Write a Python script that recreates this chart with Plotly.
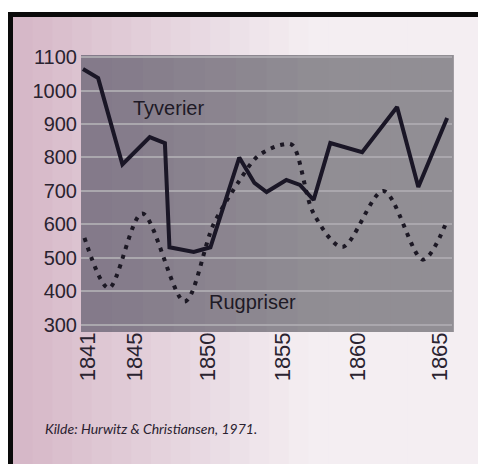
import plotly.graph_objects as go

# Tyverier (thefts) – solid line vertices
tyv_years = [1841.0, 1842.0, 1843.6, 1845.4, 1846.4, 1846.7, 1848.3, 1849.4, 1851.3,
             1852.3, 1853.1, 1854.4, 1855.3, 1856.2, 1857.3, 1859.4, 1861.7, 1863.1, 1865.0]
tyv_values = [1064, 1037, 779, 861, 843, 532, 518, 532, 800,
              724, 697, 733, 718, 673, 843, 816, 951, 712, 918]

# Rugpriser (rye prices) – dotted curve
rug_years = [1841.1, 1842.7, 1844.9, 1847.7, 1849.6, 1851.3, 1852.5, 1854.0, 1854.8,
             1856.2, 1858.1, 1860.8, 1863.4, 1865.0]
rug_values = [560, 410, 633, 370, 600, 730, 803, 837, 837,
              633, 533, 700, 495, 612]

tick_pos = [1841.3, 1844.4, 1849.2, 1854.2, 1859.1, 1864.5]
tick_text = ["1841", "1845", "1850", "1855", "1860", "1865"]
y_ticks = [300, 400, 500, 600, 700, 800, 900, 1000, 1100]

OFF = 8  # page body margin
W, H = 486 - OFF, 464 - OFF
L, R, T, B = 81 - OFF, 34, 55 - OFF, 132
pw, ph = W - L - R, H - T - B

def px(x):
    return (x - OFF - L) / pw

def py(y):
    return 1 - (y - OFF - T) / ph

fig = go.Figure()
fig.add_trace(go.Scatter(x=rug_years, y=rug_values, mode="lines",
                         line=dict(color="#1c1824", width=4, dash="4px,6px", shape="spline", smoothing=0.9),
                         hoverinfo="skip", showlegend=False))
fig.add_trace(go.Scatter(x=tyv_years, y=tyv_values, mode="lines",
                         line=dict(color="#1a1626", width=4),
                         hoverinfo="skip", showlegend=False))

def lerp(c0, c1, t):
    return "rgb(%d,%d,%d)" % tuple(int(c0[k] + (c1[k] - c0[k]) * t) for k in range(3))

shapes = []
# paper gradient strips (pink left -> white right)
n = 24
for i in range(n):
    t = min(1, (i / (n - 1)) * 1.6)
    x0 = 13 + (486 - 13) * i / n
    x1 = 13 + (486 - 13) * (i + 1) / n + 1
    shapes.append(dict(type="rect", xref="paper", yref="paper", layer="below",
                       x0=px(x0), x1=px(x1), y0=py(470), y1=py(17),
                       fillcolor=lerp((214, 184, 200), (244, 238, 242), t), line=dict(width=0)))
# plot-area background strips (purplish left -> grey right)
m = 12
for i in range(m):
    t = min(1, (i / (m - 1)) * 1.5)
    shapes.append(dict(type="rect", xref="paper", yref="paper", layer="below",
                       x0=i / m, x1=(i + 1) / m + 0.005, y0=0, y1=1,
                       fillcolor=lerp((132, 122, 138), (145, 142, 148), t), line=dict(width=0)))
# black frame (photo edge)
shapes.append(dict(type="rect", xref="paper", yref="paper", layer="above",
                   x0=px(8), x1=px(490), y0=py(17), y1=py(12),
                   fillcolor="#0a0a0a", line=dict(width=0)))
shapes.append(dict(type="rect", xref="paper", yref="paper", layer="above",
                   x0=px(8), x1=px(13), y0=py(470), y1=py(12),
                   fillcolor="#0a0a0a", line=dict(width=0)))

fig.update_layout(
    width=W, height=H,
    margin=dict(l=L, r=R, t=T, b=B),
    paper_bgcolor="#ffffff",
    plot_bgcolor="#8e8a93",
    shapes=shapes,
    xaxis=dict(range=[1840.87, 1865.32], tickvals=tick_pos, ticktext=tick_text,
               tickangle=-90, showgrid=False, zeroline=False, showline=False,
               ticks="", ticklabelstandoff=-5,
               tickfont=dict(family="Liberation Sans", size=22, color="#2a2330")),
    yaxis=dict(range=[279, 1106], tickvals=y_ticks, showgrid=True,
               gridcolor="#aaa7ad", gridwidth=1.5, zeroline=False, showline=False,
               ticks="", ticklabelstandoff=3,
               tickfont=dict(family="Liberation Sans", size=20, color="#2a2330")),
    annotations=[
        dict(text="Tyverier", x=px(168), y=py(108), xref="paper", yref="paper",
             xanchor="center", yanchor="middle", showarrow=False,
             font=dict(family="Liberation Sans", size=20, color="#1e1a26")),
        dict(text="Rugpriser", x=px(252), y=py(302), xref="paper", yref="paper",
             xanchor="center", yanchor="middle", showarrow=False,
             font=dict(family="Liberation Sans", size=20, color="#1e1a26")),
        dict(text="<i>Kilde: Hurwitz &amp; Christiansen, 1971.</i>", x=px(43), y=py(428),
             xref="paper", yref="paper", xanchor="left", yanchor="middle", showarrow=False,
             font=dict(family="Lato", size=14, color="#2a2230")),
    ],
)

fig.write_html("out.html")
